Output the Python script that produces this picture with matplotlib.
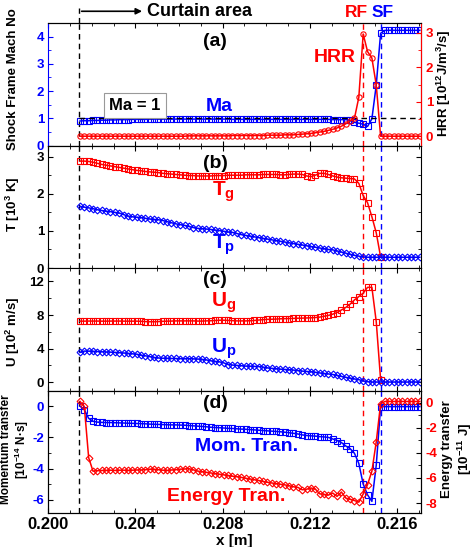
import numpy as np
import matplotlib
matplotlib.use('Agg')
import matplotlib.pyplot as plt
from matplotlib.ticker import MultipleLocator

plt.rcParams['font.family'] = 'Liberation Sans'
plt.rcParams['font.weight'] = 'bold'
plt.rcParams['axes.labelweight'] = 'bold'
plt.rcParams['axes.unicode_minus'] = False
plt.rcParams['mathtext.fontset'] = 'custom'
plt.rcParams['mathtext.rm'] = 'Liberation Sans:bold'
plt.rcParams['mathtext.it'] = 'Liberation Sans:bold'
plt.rcParams['mathtext.bf'] = 'Liberation Sans:bold'

#Sample positions [m]
x = [0.20145, 0.20165, 0.20185, 0.20205, 0.20225, 0.20245, 0.20265, 0.20285, 0.20305, 0.20325,
     0.20345, 0.20365, 0.20385, 0.20405, 0.20425, 0.20445, 0.20465, 0.20485, 0.20505, 0.20525,
     0.20545, 0.20565, 0.20585, 0.20605, 0.20625, 0.20645, 0.20665, 0.20685, 0.20705, 0.20725,
     0.20745, 0.20765, 0.20785, 0.20805, 0.20825, 0.20845, 0.20865, 0.20885, 0.20905, 0.20925,
     0.20945, 0.20965, 0.20985, 0.21005, 0.21025, 0.21045, 0.21065, 0.21085, 0.21105, 0.21125,
     0.21145, 0.21165, 0.21185, 0.21205, 0.21225, 0.21245, 0.21265, 0.21285, 0.21305, 0.21325,
     0.21345, 0.21365, 0.21385, 0.21405, 0.21425, 0.21445, 0.21465, 0.21485, 0.21505, 0.21525,
     0.21545, 0.21565, 0.21585, 0.21605, 0.21625, 0.21645, 0.21665, 0.21685, 0.21705]

#(a) shock frame Mach number and heat release rate
mach = [0.90, 0.91, 0.91, 0.92, 0.92, 0.93, 0.93, 0.94, 0.94, 0.95,
        0.95, 0.95, 0.96, 0.96, 0.96, 0.96, 0.97, 0.97, 0.97, 0.97,
        0.97, 0.97, 0.97, 0.97, 0.97, 0.97, 0.97, 0.97, 0.97, 0.97,
        0.97, 0.97, 0.97, 0.97, 0.97, 0.96, 0.96, 0.96, 0.96, 0.96,
        0.96, 0.96, 0.96, 0.96, 0.96, 0.96, 0.96, 0.96, 0.96, 0.96,
        0.96, 0.96, 0.96, 0.96, 0.96, 0.96, 0.96, 0.96, 0.95, 0.95,
        0.95, 0.95, 0.92, 0.85, 0.82, 0.78, 0.70, 0.98, 2.22, 4.12,
        4.23, 4.23, 4.23, 4.23, 4.23, 4.23, 4.23, 4.23, 4.23]
hrr = [0.00, 0.00, 0.00, 0.00, 0.00, 0.00, 0.00, 0.00, 0.00, 0.00,
       0.00, 0.00, 0.00, 0.00, 0.00, 0.00, 0.00, 0.00, 0.00, 0.00,
       0.00, 0.00, 0.00, 0.00, 0.00, 0.01, 0.01, 0.01, 0.01, 0.01,
       0.01, 0.01, 0.01, 0.01, 0.01, 0.02, 0.02, 0.02, 0.02, 0.02,
       0.02, 0.02, 0.02, 0.03, 0.03, 0.03, 0.03, 0.04, 0.04, 0.04,
       0.05, 0.06, 0.07, 0.08, 0.10, 0.12, 0.14, 0.17, 0.20, 0.24,
       0.29, 0.36, 0.44, 0.52, 1.13, 2.97, 2.46, 2.27, 1.49, 0.00,
       0.00, 0.00, 0.00, 0.00, 0.00, 0.00, 0.00, 0.00, 0.00]

#(b) gas and particle temperature [10^3 K]
t_gas = [2.88, 2.88, 2.87, 2.85, 2.82, 2.79, 2.77, 2.75, 2.73, 2.71,
         2.69, 2.67, 2.65, 2.63, 2.62, 2.60, 2.59, 2.58, 2.57, 2.55,
         2.54, 2.53, 2.52, 2.51, 2.50, 2.49, 2.49, 2.48, 2.48, 2.48,
         2.48, 2.49, 2.49, 2.49, 2.50, 2.50, 2.50, 2.50, 2.51, 2.51,
         2.51, 2.51, 2.52, 2.52, 2.52, 2.52, 2.51, 2.51, 2.52, 2.53,
         2.53, 2.52, 2.48, 2.46, 2.50, 2.55, 2.55, 2.52, 2.48, 2.45,
         2.43, 2.42, 2.41, 2.40, 2.28, 1.95, 1.76, 1.38, 0.95, 0.30,
         np.nan, np.nan, np.nan, np.nan, np.nan, np.nan, np.nan, np.nan, np.nan]
t_part = [1.66, 1.64, 1.62, 1.60, 1.57, 1.55, 1.53, 1.52, 1.50, 1.48,
          1.44, 1.40, 1.38, 1.37, 1.36, 1.34, 1.32, 1.31, 1.30, 1.28,
          1.25, 1.22, 1.19, 1.17, 1.15, 1.12, 1.09, 1.07, 1.06, 1.05,
          1.04, 1.02, 1.01, 0.99, 0.97, 0.96, 0.93, 0.90, 0.88, 0.86,
          0.84, 0.82, 0.80, 0.78, 0.76, 0.74, 0.72, 0.70, 0.68, 0.66,
          0.64, 0.62, 0.60, 0.58, 0.56, 0.54, 0.52, 0.50, 0.49, 0.46,
          0.43, 0.40, 0.37, 0.34, 0.32, 0.30, 0.29, 0.29, 0.29, 0.29,
          0.29, 0.29, 0.29, 0.29, 0.29, 0.29, 0.29, 0.29, 0.29]

#(c) gas and particle velocity [10^2 m/s]
u_gas = [7.27, 7.27, 7.28, 7.28, 7.28, 7.27, 7.27, 7.28, 7.28, 7.28,
         7.27, 7.27, 7.27, 7.27, 7.25, 7.22, 7.20, 7.20, 7.22, 7.25,
         7.27, 7.28, 7.30, 7.30, 7.30, 7.30, 7.30, 7.28, 7.28, 7.30,
         7.32, 7.35, 7.38, 7.38, 7.36, 7.33, 7.30, 7.30, 7.30, 7.32,
         7.35, 7.40, 7.45, 7.48, 7.50, 7.52, 7.55, 7.57, 7.58, 7.60,
         7.62, 7.63, 7.65, 7.67, 7.70, 7.75, 7.85, 7.95, 8.10, 8.30,
         8.60, 8.90, 9.30, 9.80, 10.20, 10.60, 11.30, 11.30, 7.20, 0.30,
         np.nan, np.nan, np.nan, np.nan, np.nan, np.nan, np.nan, np.nan, np.nan]
u_part = [3.54, 3.70, 3.70, 3.68, 3.65, 3.62, 3.60, 3.58, 3.55, 3.52,
          3.48, 3.44, 3.38, 3.34, 3.22, 3.14, 3.05, 2.95, 2.88, 2.85,
          2.84, 2.82, 2.82, 2.80, 2.80, 2.80, 2.78, 2.76, 2.72, 2.65,
          2.55, 2.48, 2.42, 2.30, 2.10, 2.04, 2.00, 1.96, 1.92, 1.90,
          1.88, 1.86, 1.80, 1.70, 1.65, 1.60, 1.55, 1.52, 1.48, 1.44,
          1.38, 1.32, 1.28, 1.24, 1.18, 1.10, 1.04, 0.98, 0.92, 0.80,
          0.68, 0.58, 0.48, 0.38, 0.30, 0.15, 0.05, 0.02, 0.02, 0.02,
          0.02, 0.02, 0.02, 0.02, 0.02, 0.02, 0.02, 0.02, 0.02]

#(d) momentum [10^-14 N.s] and energy [10^-11 J] transfer
mom = [0.00, -0.22, -0.78, -0.97, -1.02, -1.04, -1.05, -1.05, -1.06, -1.07,
       -1.08, -1.09, -1.10, -1.11, -1.12, -1.13, -1.15, -1.16, -1.17, -1.18,
       -1.19, -1.20, -1.20, -1.21, -1.22, -1.24, -1.26, -1.28, -1.30, -1.32,
       -1.35, -1.37, -1.38, -1.40, -1.42, -1.43, -1.45, -1.47, -1.48, -1.50,
       -1.52, -1.54, -1.56, -1.58, -1.60, -1.62, -1.64, -1.67, -1.70, -1.74,
       -1.78, -1.84, -1.88, -1.90, -1.92, -1.95, -1.97, -2.00, -2.10, -2.20,
       -2.33, -2.55, -2.72, -3.02, -3.67, -4.99, -5.68, -6.10, -3.78, -0.03,
       -0.03, -0.03, -0.03, -0.03, -0.03, -0.03, -0.03, -0.03, -0.03]
energy = [0.10, -0.30, -4.38, -5.46, -5.42, -5.40, -5.40, -5.38, -5.40, -5.38,
          -5.38, -5.40, -5.38, -5.36, -5.36, -5.34, -5.30, -5.30, -5.34, -5.38,
          -5.40, -5.36, -5.34, -5.30, -5.28, -5.26, -5.35, -5.45, -5.50, -5.55,
          -5.60, -5.65, -5.70, -5.75, -5.80, -5.86, -5.90, -5.95, -6.02, -6.08,
          -6.14, -6.20, -6.28, -6.34, -6.40, -6.45, -6.50, -6.55, -6.62, -6.70,
          -6.75, -6.94, -6.90, -6.80, -6.88, -7.26, -7.30, -7.37, -7.20, -7.47,
          -7.12, -7.60, -7.70, -7.80, -7.93, -7.28, -6.53, -5.46, -3.12, -0.08,
          0.10, 0.10, 0.10, 0.10, 0.10, 0.10, 0.10, 0.10, 0.10]

#Front positions
x_curtain = 0.2014
x_rf = 0.21443
x_sf = 0.21526

mk = dict(markersize=3.8, markerfacecolor='none', markeredgewidth=0.8, linewidth=1.1)
mkd = dict(mk, markersize=3.5)

fig, axs = plt.subplots(4, 1, sharex=True, figsize=(4.74, 5.47), dpi=100)
fig.subplots_adjust(left=0.102, right=0.888, top=0.958, bottom=0.062, hspace=0)
ax_a, ax_b, ax_c, ax_d = axs

for ax in axs:
    ax.tick_params(which='both', direction='in', top=True, right=True, labelsize=9.5, length=3.5, pad=3)
    ax.tick_params(which='minor', length=2.5)
    ax.axvline(x_curtain, color='k', ls=(0, (4, 3)), lw=1)
    ax.axvline(x_rf, color='red', ls=(0, (4, 3)), lw=1)
    ax.axvline(x_sf, color='blue', ls=(0, (4, 3)), lw=1)
ax_d.set_xlim(0.200, 0.2171)
ax_d.xaxis.set_major_locator(MultipleLocator(0.004))
ax_d.xaxis.set_minor_locator(MultipleLocator(0.001))
ax_d.tick_params(axis='x', labelsize=12)
ax_d.xaxis.set_major_formatter(matplotlib.ticker.FormatStrFormatter('%.3f'))
ax_d.set_xlabel('x [m]', fontsize=11, labelpad=1)

#(a)
ax_a2 = ax_a.twinx()
ax_a.plot(x, mach, 's-', color='blue', **mk)
ax_a2.plot(x, hrr, 'o-', color='red', **mk)
ax_a.plot([x_curtain, 0.2171], [1, 1], color='k', ls=(0, (4, 3)), lw=1)
ax_a.set_ylim(0, 4.5)
ax_a2.set_ylim(-0.27, 3.29)
ax_a.yaxis.set_major_locator(MultipleLocator(1))
ax_a.yaxis.set_minor_locator(MultipleLocator(0.5))
ax_a2.yaxis.set_major_locator(MultipleLocator(1))
ax_a2.yaxis.set_minor_locator(MultipleLocator(0.5))
ax_a.tick_params(axis='y', which='both', colors='blue', right=False)
ax_a2.tick_params(axis='y', which='both', colors='red', direction='in', labelsize=9.5, length=3.5)
ax_a2.tick_params(axis='y', which='minor', length=2.5)
ax_a.spines['left'].set_color('blue')
ax_a2.spines['left'].set_visible(False)
ax_a2.spines['right'].set_color('red')
ax_a.set_ylabel('Shock Frame Mach No', fontsize=9.5, va='center')
ax_a.yaxis.set_label_coords(-0.095, 0.54)
ax_a2.set_ylabel('HRR [10$^{12}$J/m$^3$/s]', fontsize=9.5, rotation=90, va='center')
ax_a2.yaxis.set_label_coords(1.061, 0.51)
ax_a.text(0.20765, 3.82, '(a)', fontsize=14, ha='center', va='center')
ax_a.text(0.21315, 3.24, 'HRR', color='red', fontsize=14, ha='center', va='center')
ax_a.text(0.20783, 1.45, 'Ma', color='blue', fontsize=14, ha='center', va='center')
ax_a.text(0.20397, 1.47, 'Ma = 1', fontsize=12, ha='center', va='center',
          bbox=dict(boxstyle='square,pad=0.3', fc='white', ec='0.6', lw=0.8))
#curtain marker above the top panel
ax_a.plot([x_curtain, x_curtain], [4.5, 5.05], color='k', ls=(0, (4, 3)), lw=1, clip_on=False)
ax_a.annotate('', xy=(0.20443, 4.93), xytext=(x_curtain, 4.93), annotation_clip=False,
              arrowprops=dict(arrowstyle='-|>', color='k', lw=1.2, mutation_scale=9))
ax_a.text(0.20452, 4.93, 'Curtain area', fontsize=13, ha='left', va='center')
ax_a.text(0.21412, 4.90, 'RF', color='red', fontsize=12.5, ha='center', va='center')
ax_a.text(0.21536, 4.90, 'SF', color='blue', fontsize=12.5, ha='center', va='center')

#(b)
ax_b.plot(x, t_gas, 's-', color='red', **mk)
ax_b.plot(x, t_part, 'D-', color='blue', **mkd)
ax_b.set_ylim(0, 3.3)
ax_b.yaxis.set_major_locator(MultipleLocator(1))
ax_b.yaxis.set_minor_locator(MultipleLocator(0.5))
ax_b.set_ylabel('T [10$^3$ K]', fontsize=9.5, va='center')
ax_b.yaxis.set_label_coords(-0.095, 0.52)
ax_b.text(0.20765, 2.82, '(b)', fontsize=14, ha='center', va='center')
ax_b.text(0.20805, 2.05, '$T_g$', color='red', fontsize=15, ha='center', va='center')
ax_b.text(0.20805, 0.62, '$T_p$', color='blue', fontsize=15, ha='center', va='center')

#(c)
ax_c.plot(x, u_gas, 's-', color='red', **mk)
ax_c.plot(x, u_part, 'D-', color='blue', **mkd)
ax_c.set_ylim(-1.0, 13.6)
ax_c.yaxis.set_major_locator(MultipleLocator(4))
ax_c.yaxis.set_minor_locator(MultipleLocator(2))
ax_c.set_ylabel('U [10$^2$ m/s]', fontsize=9.5, va='center')
ax_c.yaxis.set_label_coords(-0.095, 0.48)
ax_c.text(0.20765, 12.2, '(c)', fontsize=14, ha='center', va='center')
ax_c.text(0.20805, 9.45, '$U_g$', color='red', fontsize=15, ha='center', va='center')
ax_c.text(0.20805, 3.93, '$U_p$', color='blue', fontsize=15, ha='center', va='center')

#(d)
ax_d2 = ax_d.twinx()
ax_d.plot(x, mom, 's-', color='blue', **mk)
ax_d2.plot(x, energy, 'D-', color='red', **mkd)
ax_d.set_ylim(-6.85, 1.0)
ax_d2.set_ylim(-8.8, 0.97)
ax_d.yaxis.set_major_locator(MultipleLocator(2))
ax_d.yaxis.set_minor_locator(MultipleLocator(1))
ax_d2.yaxis.set_major_locator(MultipleLocator(2))
ax_d2.yaxis.set_minor_locator(MultipleLocator(1))
ax_d.tick_params(axis='y', which='both', labelcolor='blue', right=False)
ax_d2.tick_params(axis='y', which='both', labelcolor='red', direction='in', labelsize=9.5, length=3.5)
ax_d2.tick_params(axis='y', which='minor', length=2.5)
ax_d.set_ylabel('Momentum transfer\n[10$^{-14}$ N·s]', fontsize=8.5, va='center', linespacing=1.1)
ax_d.yaxis.set_label_coords(-0.088, 0.52)
ax_d2.set_ylabel('Energy transfer\n[10$^{-11}$ J]', fontsize=9.5, rotation=90, va='center', linespacing=1.2)
ax_d2.yaxis.set_label_coords(1.098, 0.52)
ax_d.text(0.20765, 0.15, '(d)', fontsize=14, ha='center', va='center')
ax_d.text(0.20911, -2.58, 'Mom. Tran.', color='blue', fontsize=14, ha='center', va='center')
ax_d.text(0.20815, -5.8, 'Energy Tran.', color='red', fontsize=14, ha='center', va='center')

plt.savefig('out.png', dpi=100)
